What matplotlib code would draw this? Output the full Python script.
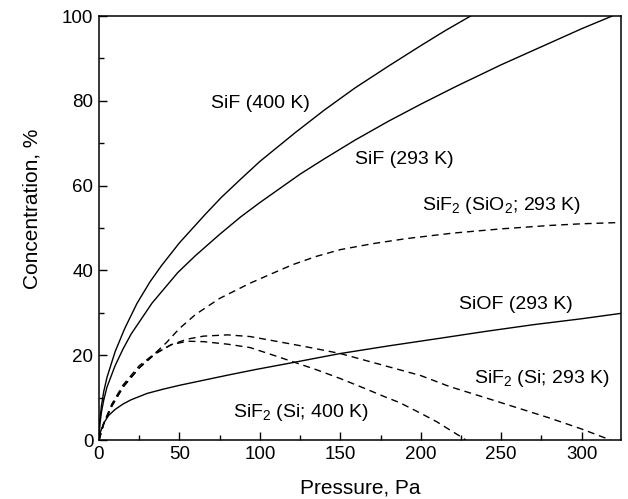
import matplotlib
matplotlib.use("Agg")
import matplotlib.pyplot as plt
from matplotlib.ticker import MultipleLocator

plt.rcParams['font.family'] = ['Liberation Sans', 'DejaVu Sans']
plt.rcParams['mathtext.fontset'] = 'custom'
plt.rcParams['mathtext.rm'] = 'Liberation Sans'
plt.rcParams['mathtext.it'] = 'Liberation Sans:italic'
plt.rcParams['mathtext.bf'] = 'Liberation Sans:bold'

# SiF (400 K)
sif400_x = [0, 0.5, 1.5, 3, 5, 10, 16, 23.6, 31.7, 39, 50, 66, 76, 88, 100, 122, 140, 159, 180, 200, 215, 231]
sif400_y = [0, 4.5, 8, 11.5, 14.8, 20.8, 26.3, 32.2, 37.3, 41.2, 46.5, 53.2, 57.2, 61.5, 65.7, 72.5, 77.8, 83, 88.2, 93, 96.5, 100]

# SiF (293 K)
sif293_x = [0, 0.5, 1.5, 3, 5, 10, 15, 20, 33, 49, 60, 75, 88, 100, 125, 140, 159, 180, 200, 222, 250, 280, 300, 319]
sif293_y = [0, 3.5, 6.5, 9.5, 12.5, 17.5, 21.5, 25, 32.3, 39.5, 43.5, 48.5, 52.6, 56, 62.7, 66.3, 70.7, 75.2, 79.2, 83.4, 88.5, 93.6, 97, 100]

# SiF2 (SiO2; 293 K)
sio2_x = [0, 3, 8, 15, 25, 35, 42, 50, 60, 75, 94, 106, 120, 135, 150, 170, 191, 220, 250, 280, 300, 324]
sio2_y = [0, 4, 8, 12.5, 17, 20.5, 23, 26.3, 29.6, 33.4, 37, 39, 41.3, 43.3, 44.9, 46.3, 47.5, 48.8, 49.8, 50.6, 51.0, 51.3]

# SiF2 (Si; 293 K)
si293_x = [0, 3, 8, 15, 25, 35, 45, 55, 65, 80, 94, 110, 130, 150, 175, 200, 218, 240, 260, 280, 300, 318]
si293_y = [0, 3.8, 8, 12.5, 17, 20.3, 22.5, 23.8, 24.5, 24.8, 24.4, 23.3, 21.9, 20.4, 17.8, 15.2, 12.6, 10, 7.6, 5.2, 2.6, 0]

# SiF2 (Si; 400 K)
si400_x = [0, 3, 8, 15, 25, 35, 45, 55, 65, 80, 94, 110, 121, 135, 150, 165, 177, 187, 200, 210, 218, 224, 228]
si400_y = [0, 4, 8.5, 13, 17.5, 20.5, 22.5, 23.3, 23.2, 22.6, 21.8, 19.8, 18.4, 16.6, 14.5, 12.2, 10.3, 8.8, 6.3, 4.3, 2.4, 1.0, 0]

# SiOF (293 K)
siof_x = [0, 1, 3, 6, 10, 15, 20, 30, 40, 50, 60, 80, 97, 121, 150, 180, 212, 240, 270, 300, 325]
siof_y = [0, 2, 4, 5.8, 7.2, 8.5, 9.5, 11, 12, 12.9, 13.7, 15.3, 16.6, 18.3, 20.4, 22.2, 24, 25.6, 27.2, 28.6, 29.9]

labels = ["SiF (400 K)", "SiF (293 K)", "SiF$_2$ (SiO$_2$; 293 K)",
          "SiOF (293 K)", "SiF$_2$ (Si; 293 K)", "SiF$_2$ (Si; 400 K)"]
label_pos = [(69.6, 78.2), (159.1, 65.1), (200.5, 54.2), (224, 30.8), (233, 13.5), (83.5, 5.5)]

fig = plt.figure(figsize=(6.28, 4.99), dpi=100)
ax = fig.add_axes([0.1576, 0.1182, 0.8313, 0.8497])

lw = 1.0
dash = (0, (5, 3.5))
ax.plot(sif400_x, sif400_y, color='black', lw=lw)
ax.plot(sif293_x, sif293_y, color='black', lw=lw)
ax.plot(siof_x, siof_y, color='black', lw=lw)
ax.plot(sio2_x, sio2_y, color='black', lw=lw, linestyle=dash)
ax.plot(si293_x, si293_y, color='black', lw=lw, linestyle=dash)
ax.plot(si400_x, si400_y, color='black', lw=lw, linestyle=dash)

for t, (x, y) in zip(labels, label_pos):
    ax.text(x, y, t, fontsize=14, ha='left', va='baseline')

ax.set_xlim(0, 324.5)
ax.set_ylim(0, 100)
ax.xaxis.set_major_locator(MultipleLocator(50))
ax.xaxis.set_minor_locator(MultipleLocator(25))
ax.yaxis.set_major_locator(MultipleLocator(20))
ax.yaxis.set_minor_locator(MultipleLocator(10))
ax.tick_params(which='both', direction='in', top=False, right=False, labelsize=13.5, width=1.0)
ax.tick_params(which='major', length=5.5, pad=4)
ax.tick_params(which='minor', length=3.5)
for s in ax.spines.values():
    s.set_linewidth(1.1)

ax.set_xlabel("Pressure, Pa", fontsize=15)
ax.set_ylabel("Concentration, %", fontsize=15)
ax.xaxis.set_label_coords(0.5, -0.113)
ax.xaxis.label.set_va('center')
ax.yaxis.set_label_coords(-0.128, 0.545)
ax.yaxis.label.set_va('center')

fig.savefig("out.png", dpi=100)
